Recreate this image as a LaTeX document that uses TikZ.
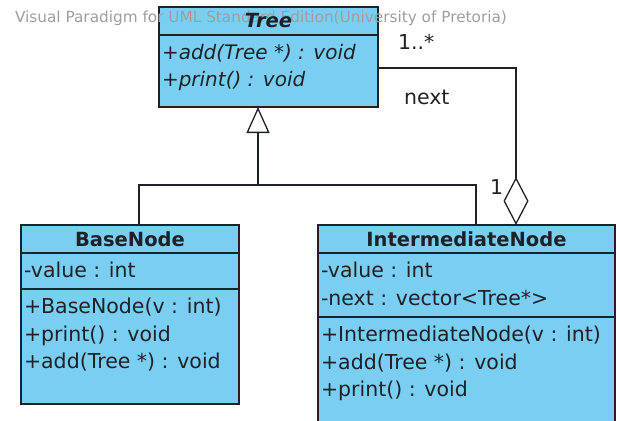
\documentclass[tikz,border=0pt]{standalone}
\usepackage{fontspec}
\setmainfont{DejaVu Sans}
\usetikzlibrary{positioning,arrows.meta}
\definecolor{classblue}{RGB}{122,206,242}
\definecolor{inkdark}{RGB}{30,34,40}
\definecolor{markgray}{RGB}{158,158,158}

\begin{document}
\begin{tikzpicture}[x=1pt, y=-1pt, every node/.style={inner sep=0pt, outer sep=0pt, text=inkdark, font=\fontsize{20.5}{27.5}\selectfont},
        part/.style={draw=inkdark, line width=1.3pt, fill=classblue},
        title/.style={font=\fontsize{19.5}{24}\selectfont\bfseries},
        member/.style={align=left, anchor=north west, inner xsep=3pt, inner ysep=9pt},
        link/.style={draw=inkdark, line width=1.3pt}]
        \useasboundingbox (0,0) rectangle (617,420);

        % Tree
        \node[part, anchor=north west, minimum width=219pt, minimum height=28pt](tree) at (159,7) {};
        \node[part, below=0pt of tree, minimum width=219pt, minimum height=72pt](tree_ops) {};
        \node[member, font=\fontsize{20}{27.5}\selectfont\itshape](tree_ops_txt) at (tree_ops.north west) {+add(Tree *) : void\\+print() : void};

        % BaseNode
        \node[part, title, anchor=north west, minimum width=218pt, minimum height=28pt](base) at (21,225) {BaseNode};
        \node[part, below=0pt of base, minimum width=218pt, minimum height=36pt](base_attr) {};
        \node[part, below=0pt of base_attr, minimum width=218pt, minimum height=115pt](base_ops) {};
        \node[member](base_attr_txt) at (base_attr.north west) {-value : int};
        \node[member](base_ops_txt) at (base_ops.north west) {+BaseNode(v : int)\\+print() : void\\+add(Tree *) : void};

        % IntermediateNode
        \node[part, title, anchor=north west, minimum width=297pt, minimum height=28pt](inter) at (318,225) {IntermediateNode};
        \node[part, below=0pt of inter, minimum width=297pt, minimum height=64pt](inter_attr) {};
        \node[part, below=0pt of inter_attr, minimum width=297pt, minimum height=120pt](inter_ops) {};
        \node[member](inter_attr_txt) at (inter_attr.north west) {-value : int\\-next : vector<Tree*>};
        \node[member](inter_ops_txt) at (inter_ops.north west) {+IntermediateNode(v : int)\\+add(Tree *) : void\\+print() : void};

        % generalization
        \coordinate (gen_joint) at (258,185);
        \draw[link, -{Triangle[open, length=26pt, width=23pt]}] (gen_joint) -- (gen_joint |- tree_ops.south);
        \draw[link] ([xshift=9pt]base.north) |- (gen_joint) -| ([xshift=9.5pt]inter.north);

        % aggregation
        \draw[link, -{Diamond[open, length=48pt, width=25pt]}] ([yshift=3pt]tree_ops.east) -| ([xshift=49.5pt]inter.north);
        \node[anchor=west](many) at (398,42) {1..*};
        \node[anchor=west](next_role) at (404,97) {next};
        \node[anchor=west](one) at (490,187) {1};

        \node[anchor=west, text=markgray, font=\fontsize{15.3}{18}\selectfont](vp_mark) at (15,18) {Visual Paradigm for UML Standard Edition(University of Pretoria)};
        \node[title](tree_name) at (tree.center) {\itshape Tree};
    \end{tikzpicture}
\end{document}
